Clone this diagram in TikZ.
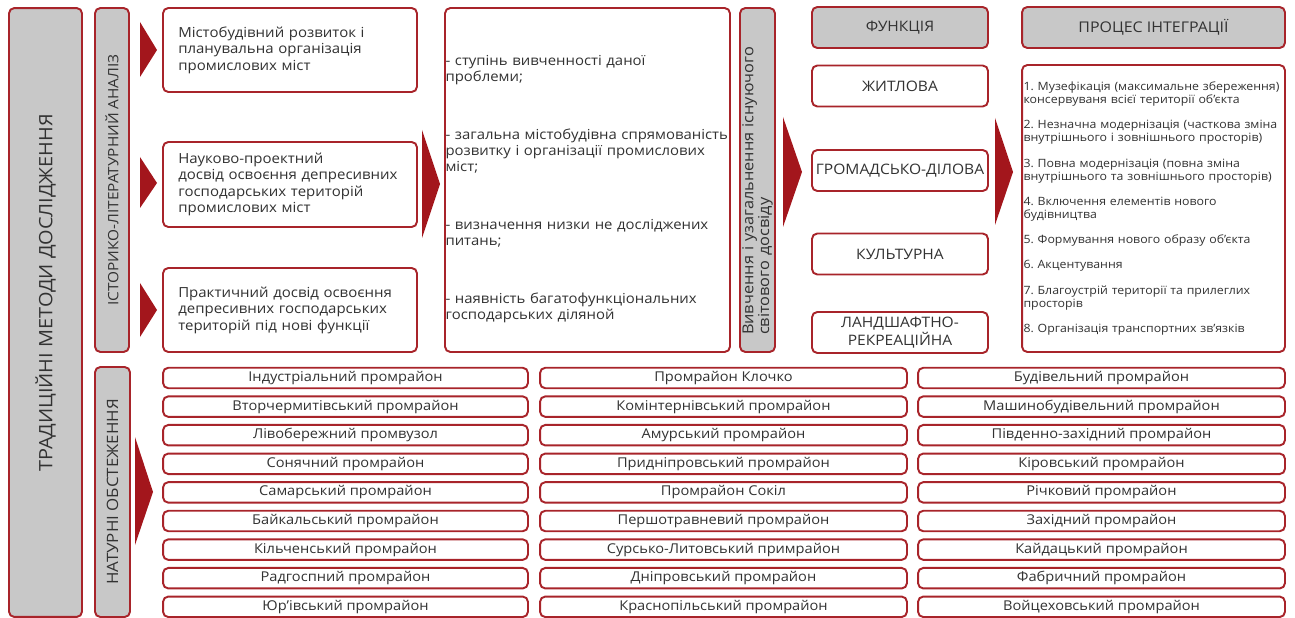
\documentclass[tikz,border=0pt]{standalone}
\usepackage{fontspec}
\setmainfont{Open Sans}[FakeStretch=1.08]
\frenchspacing

\definecolor{boxred}{RGB}{168,36,42}
\definecolor{arrowred}{RGB}{163,22,28}
\definecolor{boxgray}{RGB}{200,200,200}
\definecolor{textgray}{RGB}{50,50,50}

\tikzstyle{rbox}=[draw=boxred, line width=1.1pt, rounded corners=3pt, fill=white, text=textgray, inner sep=0pt]
\tikzstyle{gbox}=[rbox, fill=boxgray]
\tikzstyle{vtitle}=[gbox, rotate=90, font=\fontsize{8.1}{9}\selectfont]
\tikzstyle{ptext}=[rbox, align=left, font=\fontsize{7.9}{9.4}\selectfont]
\tikzstyle{fbox}=[rbox, minimum width=3.52cm, minimum height=0.82cm, align=center, font=\fontsize{8.2}{8.6}\selectfont]
\tikzstyle{zone}=[rbox, minimum height=0.41cm, font=\fontsize{7.7}{9}\selectfont]
\tikzstyle{tri}=[fill=arrowred]

\begin{document}
\begin{tikzpicture}[x=0.02cm, y=-0.02cm]
        \useasboundingbox (0,0) rectangle (1295,618);

        \draw (45.5,312.5) node[gbox, rotate=90, minimum width=12.18cm, minimum height=1.46cm](methods){};
        \draw (45.5,293) node[rotate=90, text=textgray, font=\fontsize{10.5}{12}\selectfont](methodstxt){ТРАДИЦІЙНІ МЕТОДИ ДОСЛІДЖЕННЯ};
        \draw (112,180) node[vtitle, minimum width=6.88cm, minimum height=0.68cm](hist){ІСТОРИКО-ЛІТЕРАТУРНИЙ АНАЛІЗ};
        \draw (112.5,492) node[vtitle, minimum width=5cm, minimum height=0.7cm, font=\fontsize{8.9}{10}\selectfont](field){НАТУРНІ ОБСТЕЖЕННЯ};
        %
        \draw (290,50) node[ptext, minimum width=5.08cm, minimum height=1.68cm, text width=4.47cm](src1){Містобудівний розвиток і\\планувальна організація\\промислових міст};
        \draw (290,184.5) node[ptext, minimum width=5.08cm, minimum height=1.7cm, text width=4.47cm](src2){Науково-проектний\\досвід освоєння депресивних\\господарських територій\\промислових міст};
        \draw (290,310) node[ptext, minimum width=5.08cm, minimum height=1.68cm, text width=4.47cm](src3){Практичний досвід освоєння\\депресивних господарських\\територій під нові функції};
        \draw (587.5,180) node[ptext, minimum width=5.7cm, minimum height=6.88cm, text width=5.68cm, font=\fontsize{7.85}{9.1}\selectfont](aims){\rule{0pt}{16pt}- ступінь вивченності даної\\проблеми;\\[24pt]- загальна містобудівна спрямованість\\розвитку і організації промислових\\міст;\\[24pt]- визначення низки не досліджених\\питань;\\[24pt]- наявність багатофункціональних\\господарських діляной};
        \draw (757.5,180) node[vtitle, minimum width=6.88cm, minimum height=0.7cm, text width=6.2cm, align=left, font=\fontsize{8.6}{9}\selectfont](study){Вивчення і узагальнення існуючого\\світового досвіду};
        %
        \draw (900,27.5) node[fbox, fill=boxgray](func){ФУНКЦІЯ};
        \draw (900,86) node[fbox](f1){ЖИТЛОВА};
        \draw (900,170.5) node[fbox](f2){ГРОМАДСЬКО-ДІЛОВА};
        \draw (900,254) node[fbox](f3){КУЛЬТУРНА};
        \draw (900,332.5) node[fbox](f4){ЛАНДШАФТНО-\\РЕКРЕАЦІЙНА};
        \draw (1153.5,27.5) node[fbox, fill=boxgray, minimum width=5.26cm, font=\fontsize{8.4}{9}\selectfont](integ){ПРОЦЕС ІНТЕГРАЦІЇ};
        \draw (1153.5,208.5) node[rbox, minimum width=5.26cm, minimum height=5.74cm, text width=5.2cm, align=left, font=\fontsize{6.5}{7.4}\selectfont](steps){1. Музефікація (максимальне збереження)\\консервуваня всієї території об’єкта\\[7pt]2. Незначна модернізація (часткова зміна\\внутрішнього і зовнішнього просторів)\\[7pt]3. Повна модернізація (повна зміна\\внутрішнього та зовнішнього просторів)\\[7pt]4. Включення елементів нового\\будівництва\\[7pt]5. Формування нового образу об’єкта\\[7pt]6. Акцентування\\[7pt]7. Благоустрій території та прилеглих\\просторів\\[7pt]8. Організація транспортних зв’язків};
        %
        \fill[tri] (140,22) -- (157,50) -- (140,77) -- cycle;
        \fill[tri] (140,157) -- (157,183) -- (140,208) -- cycle;
        \fill[tri] (140,283) -- (157,310) -- (140,337) -- cycle;
        \fill[tri] (422,130) -- (440,184) -- (422,238) -- cycle;
        \fill[tri] (783,117) -- (802,172) -- (783,227) -- cycle;
        \fill[tri] (995,118) -- (1013,172) -- (995,225) -- cycle;
        \fill[tri] (135,437) -- (153,492) -- (135,545) -- cycle;
        %
        \draw (345.5,378+0*28.6) node[zone, minimum width=7.3cm](z1){Індустріальний промрайон};
        \draw (345.5,378+1*28.6) node[zone, minimum width=7.3cm](z2){Вторчермитівський промрайон};
        \draw (345.5,378+2*28.6) node[zone, minimum width=7.3cm](z3){Лівобережний промвузол};
        \draw (345.5,378+3*28.6) node[zone, minimum width=7.3cm](z4){Сонячний промрайон};
        \draw (345.5,378+4*28.6) node[zone, minimum width=7.3cm](z5){Самарський промрайон};
        \draw (345.5,378+5*28.6) node[zone, minimum width=7.3cm](z6){Байкальський промрайон};
        \draw (345.5,378+6*28.6) node[zone, minimum width=7.3cm](z7){Кільченський промрайон};
        \draw (345.5,378+7*28.6) node[zone, minimum width=7.3cm](z8){Радгоспний промрайон};
        \draw (345.5,378+8*28.6) node[zone, minimum width=7.3cm](z9){Юр’івський промрайон};
        \draw (723.5,378+0*28.6) node[zone, minimum width=7.34cm](z10){Промрайон Клочко};
        \draw (723.5,378+1*28.6) node[zone, minimum width=7.34cm](z11){Комінтернівський промрайон};
        \draw (723.5,378+2*28.6) node[zone, minimum width=7.34cm](z12){Амурський промрайон};
        \draw (723.5,378+3*28.6) node[zone, minimum width=7.34cm](z13){Придніпровський промрайон};
        \draw (723.5,378+4*28.6) node[zone, minimum width=7.34cm](z14){Промрайон Сокіл};
        \draw (723.5,378+5*28.6) node[zone, minimum width=7.34cm](z15){Першотравневий промрайон};
        \draw (723.5,378+6*28.6) node[zone, minimum width=7.34cm](z16){Сурсько-Литовський примрайон};
        \draw (723.5,378+7*28.6) node[zone, minimum width=7.34cm](z17){Дніпровський промрайон};
        \draw (723.5,378+8*28.6) node[zone, minimum width=7.34cm](z18){Краснопільський промрайон};
        \draw (1101.5,378+0*28.6) node[zone, minimum width=7.34cm](z19){Будівельний промрайон};
        \draw (1101.5,378+1*28.6) node[zone, minimum width=7.34cm](z20){Машинобудівельний промрайон};
        \draw (1101.5,378+2*28.6) node[zone, minimum width=7.34cm](z21){Південно-західний промрайон};
        \draw (1101.5,378+3*28.6) node[zone, minimum width=7.34cm](z22){Кіровський промрайон};
        \draw (1101.5,378+4*28.6) node[zone, minimum width=7.34cm](z23){Річковий промрайон};
        \draw (1101.5,378+5*28.6) node[zone, minimum width=7.34cm](z24){Західний промрайон};
        \draw (1101.5,378+6*28.6) node[zone, minimum width=7.34cm](z25){Кайдацький промрайон};
        \draw (1101.5,378+7*28.6) node[zone, minimum width=7.34cm](z26){Фабричний промрайон};
        \draw (1101.5,378+8*28.6) node[zone, minimum width=7.34cm](z27){Войцеховський промрайон};
\end{tikzpicture}
\end{document}
